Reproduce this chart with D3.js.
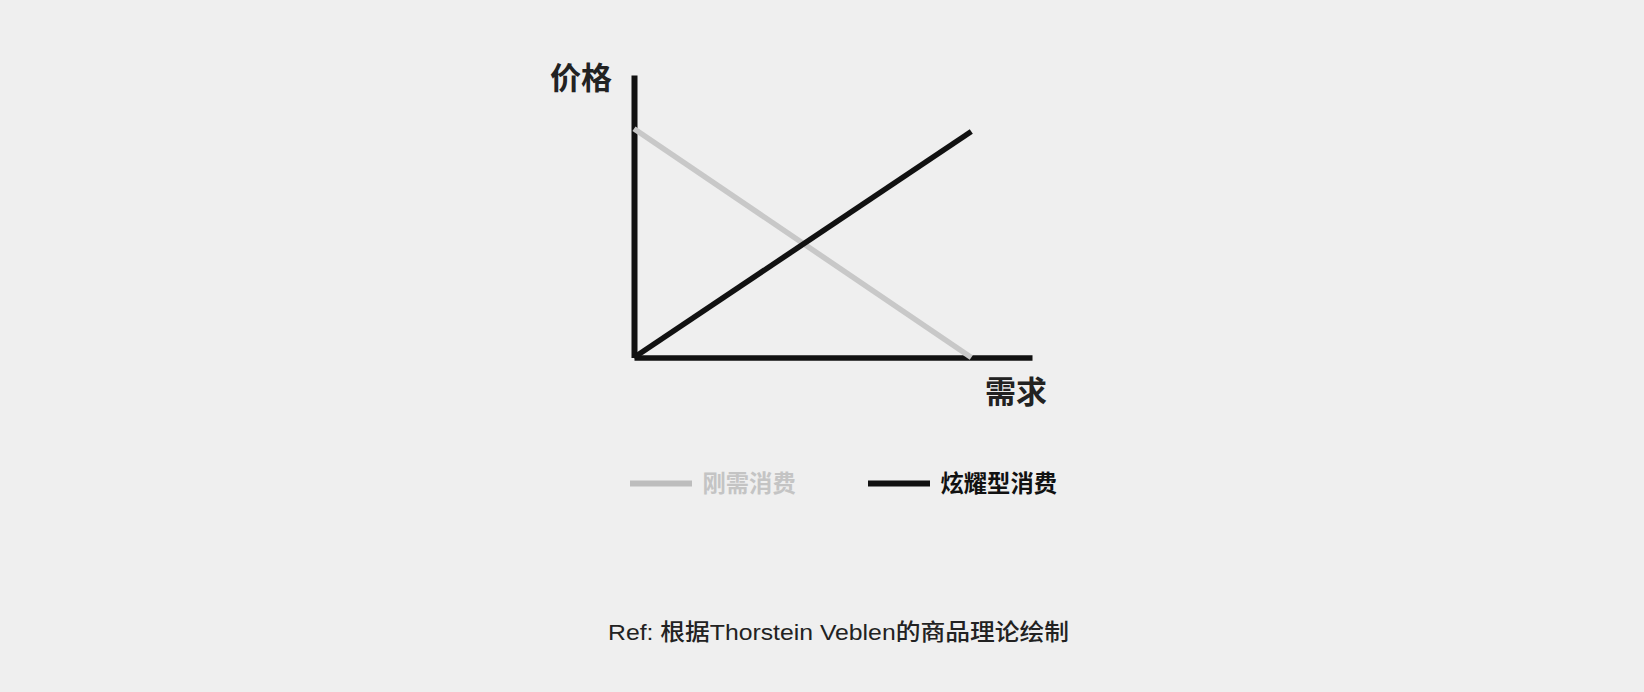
<!DOCTYPE html>
<html><head><meta charset="utf-8">
<script src="https://cdn.jsdelivr.net/npm/d3@7"></script>
<style>
html,body{margin:0;padding:0;background:#efefef;}
svg{display:block;}
text{font-family:"Noto Sans CJK SC","Noto Sans",sans-serif;}
</style></head>
<body>
<script>
// data
const seriesNames = ["刚需消费", "炫耀型消费"];
const demandX = [0, 10];
const rigidPrice = [8.1, 0];      // 刚需消费: price falls as demand rises
const veblenPrice = [0, 8.0];     // 炫耀型消费: price rises with demand
const axisLabels = {x: "需求", y: "价格"};
const footnote = "Ref: 根据Thorstein Veblen的商品理论绘制";
const colors = ["#c8c8c8", "#111111"];

const W = 1644, H = 692;
const svg = d3.select("body").append("svg").attr("width", W).attr("height", H);

const x = d3.scaleLinear().domain([0, 11.8]).range([634, 1032]);
const y = d3.scaleLinear().domain([0, 10]).range([357.5, 75]);

const g = svg.append("g");

// axes
const yAxis = d3.axisLeft(y).tickValues([]).tickSizeOuter(0);
const xAxis = d3.axisBottom(x).tickValues([]).tickSizeOuter(0);
g.append("g").attr("transform", `translate(${x(0)},0)`).call(yAxis)
  .call(s => s.select(".domain").attr("stroke", "#111").attr("stroke-width", 6));
g.append("g").attr("transform", `translate(0,${y(0)})`).call(xAxis)
  .call(s => s.select(".domain").attr("stroke", "#111").attr("stroke-width", 5.5));

const line = d3.line().x(d => x(d[0])).y(d => y(d[1]));
const series = [rigidPrice, veblenPrice];
series.forEach((vals, i) => {
  g.append("path")
    .datum(demandX.map((dx, j) => [dx, vals[j]]))
    .attr("d", line)
    .attr("fill", "none")
    .attr("stroke", colors[i])
    .attr("stroke-width", 5.5)
    .attr("stroke-linecap", "butt");
});

// axis labels
g.append("text").attr("x", 612).attr("y", 89).attr("text-anchor", "end")
  .attr("font-size", 31).attr("font-weight", 700).attr("fill", "#222").text(axisLabels.y);
g.append("text").attr("x", 985).attr("y", 403).attr("text-anchor", "start")
  .attr("font-size", 31).attr("font-weight", 700).attr("fill", "#222").text(axisLabels.x);

// legend
const legendX = [630, 868];
seriesNames.forEach((name, i) => {
  const lg = g.append("g").attr("transform", `translate(${legendX[i]},483.5)`);
  lg.append("line").attr("x1", 0).attr("x2", 62).attr("y1", 0).attr("y2", 0)
    .attr("stroke", i === 0 ? "#bdbdbd" : "#111").attr("stroke-width", 6);
  lg.append("text").attr("x", 72.5).attr("y", 8).attr("font-size", 23.3)
    .attr("font-weight", 700).attr("fill", i === 0 ? "#c4c4c4" : "#111").text(name);
});

// footnote
const fn = svg.append("text").attr("x", 608).attr("y", 640).attr("font-size", 22.5)
  .attr("font-weight", 500).attr("fill", "#222")
  .style("font-family", '"Liberation Sans","Noto Sans CJK SC",sans-serif')
  .text(footnote);
const fw = fn.node().getComputedTextLength();
if (Math.abs(fw - 461) > 4) fn.attr("textLength", 461).attr("lengthAdjust", "spacingAndGlyphs");
</script>
</body></html>
